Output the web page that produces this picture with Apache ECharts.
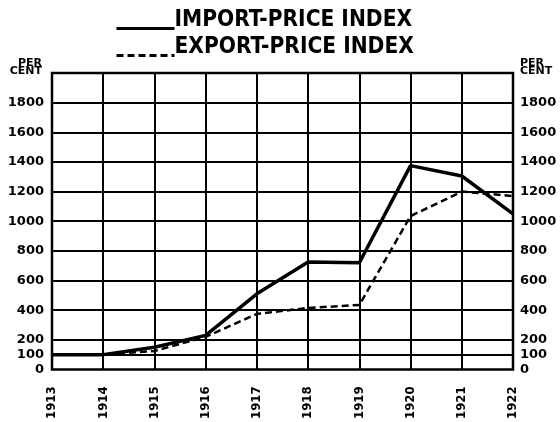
<!DOCTYPE html>
<html>
<head>
<meta charset="utf-8">
<script src="https://cdn.jsdelivr.net/npm/echarts@6/dist/echarts.min.js"></script>
<style>
    html, body { margin: 0; padding: 0; background: #fff; }
    #chart { width: 560px; height: 422px; }
</style>
</head>
<body>
<div id="chart"></div>
<script>
    // years on the x axis
    var years = ['1913', '1914', '1915', '1916', '1917', '1918', '1919', '1920', '1921', '1922']
    // index values, per cent of 1913
    var importIndex = [100, 100, 150, 230, 510, 725, 720, 1375, 1305, 1050]
    var exportIndex = [100, 100, 125, 220, 375, 415, 435, 1035, 1200, 1170]
    // labelled ticks / gridlines on the value axes
    var yTicks = [0, 100, 200, 400, 600, 800, 1000, 1200, 1400, 1600, 1800]

    var labelFont = {
        color: '#000',
        fontFamily: 'DejaVu Sans',
        fontWeight: 'bold',
        fontSize: 13
    }

    function valueAxis(pos) {
        return {
            type: 'value',
            position: pos,
            min: 0,
            max: 2000,
            interval: 100,
            name: 'PER\nCENT',
            nameLocation: 'end',
            nameGap: -2,
            nameTextStyle: {
                color: '#000',
                fontFamily: 'DejaVu Sans',
                fontWeight: 'bold',
                fontSize: 11,
                lineHeight: 8,
                align: pos == 'left' ? 'right' : 'left',
                padding: pos == 'left' ? [0, 10, 0, 0] : [0, 0, 0, 7]
            },
            axisLine: { show: false },
            axisTick: { show: false },
            splitLine: { show: false },
            axisLabel: Object.assign({
                customValues: yTicks,
                margin: pos == 'left' ? 8 : 7,
                formatter: function (v) { return String(v) }
            }, labelFont)
        }
    }

    var gridLines = yTicks.slice(1).map(function (v) { return { yAxis: v } })

    var option = {
        animation: false,
        backgroundColor: '#fff',
        legend: {
            orient: 'vertical',
            left: 110,
            top: 4,
            itemWidth: 58,
            itemHeight: 14,
            itemGap: -12,
            itemStyle: { opacity: 0 },
            lineStyle: { width: 3 },
            formatter: function (name) { return '{t|' + name + '}' },
            textStyle: {
                rich: {
                    t: {
                        color: '#000',
                        fontFamily: 'DejaVu Sans Condensed',
                        fontWeight: 'bold',
                        fontSize: 22.5,
                        lineHeight: 26,
                        padding: [0, 0, 16, -5]
                    }
                }
            },
            data: ['IMPORT-PRICE INDEX', 'EXPORT-PRICE INDEX']
        },
        grid: {
            left: 52,
            right: 47,
            top: 73,
            bottom: 51,
            show: true,
            borderColor: '#000',
            borderWidth: 2.5,
            backgroundColor: 'transparent'
        },
        xAxis: {
            type: 'category',
            data: years,
            boundaryGap: false,
            axisLine: { show: false },
            axisTick: { show: false },
            splitLine: { show: true, lineStyle: { color: '#000', width: 2 } },
            axisLabel: Object.assign({}, labelFont, {
                fontFamily: 'DejaVu Sans Condensed',
                fontSize: 13,
                rotate: 90,
                margin: 17,
                interval: 0
            })
        },
        yAxis: [valueAxis('left'), valueAxis('right')],
        series: [
            {
                name: 'IMPORT-PRICE INDEX',
                type: 'line',
                data: importIndex,
                symbol: 'none',
                lineStyle: { color: '#000', width: 3.5 },
                itemStyle: { color: '#000' },
                z: 3,
                markLine: {
                    silent: true,
                    symbol: 'none',
                    label: { show: false },
                    lineStyle: { color: '#000', width: 2, type: 'solid' },
                    data: gridLines
                }
            },
            {
                name: 'EXPORT-PRICE INDEX',
                type: 'line',
                data: exportIndex,
                symbol: 'none',
                lineStyle: { color: '#000', width: 2.5, type: [7, 4] },
                itemStyle: { color: '#000' },
                z: 4
            }
        ]
    }

    var chart = echarts.init(document.getElementById('chart'))
    chart.setOption(option)
</script>
</body>
</html>
